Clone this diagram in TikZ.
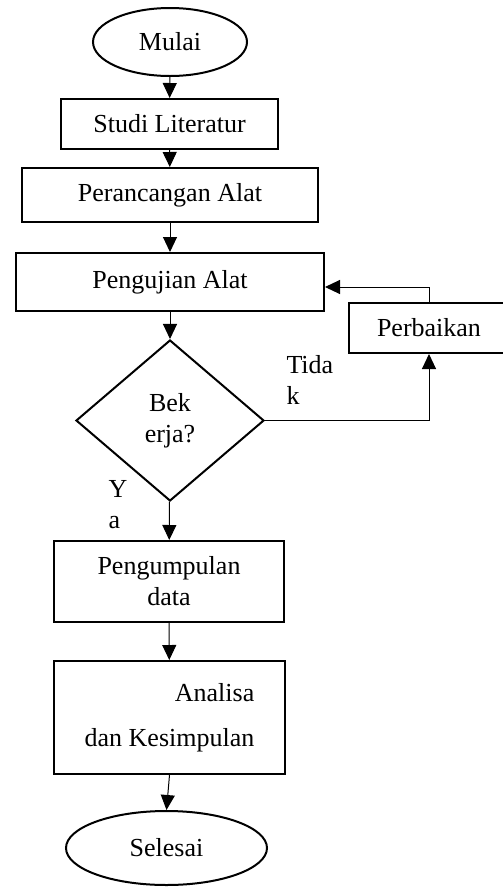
\documentclass[tikz,border=0pt]{standalone}
\usepackage{fontspec}
\setmainfont{Liberation Serif}
\usepackage{tikz}
\usetikzlibrary{shapes.geometric,arrows.meta}
\newcommand{\flowFont}{\fontsize{26}{31}\selectfont}
\newcommand{\boxLine}{2pt}

\begin{document}
\begin{tikzpicture}[x=1pt, y=-1pt, line width=1pt,
		every node/.style={font=\flowFont, inner sep=0pt},
		terminal/.style={draw, ellipse, line width=\boxLine},
		process/.style={draw, rectangle, line width=\boxLine, align=center},
		decision/.style={draw, diamond, line width=\boxLine, align=center},
		arr/.style={-{Triangle[length=15pt,width=14pt]}}]
	\useasboundingbox (0,0) rectangle (503,887);
	% main column
	\node[terminal, minimum width=154pt, minimum height=68pt] (mulai) at (170,42) {Mulai};
	\node[process, minimum width=217pt, minimum height=50pt] (studi) at (169.5,124) {Studi Literatur};
	\node[process, minimum width=296pt, minimum height=54pt] (rancang) at (170,195) {Perancangan Alat};
	\node[process, minimum width=308pt, minimum height=58pt] (uji) at (170,282) {Pengujian Alat};
	\node[decision, minimum width=188pt, minimum height=161pt] (cek) at (170,420.5) {Bek\\erja?};
	\node[process, minimum width=230pt, minimum height=81pt] (kumpul) at (169,581.5) {Pengumpulan\\data};
	\node[process, minimum width=231pt, minimum height=113pt, align=right] (analisa) at (169.5,717.5) {Analisa\\[14pt]dan Kesimpulan};
	\node[terminal, minimum width=201pt, minimum height=74pt] (selesai) at (166.5,848) {Selesai};
	% loop back
	\node[process, minimum width=160pt, minimum height=50pt] (perbaikan) at (429,328) {Perbaikan};
	\node[anchor=north west, align=left] (tidak) at (286,355) {Tida\\k};
	\node[anchor=north west, align=left] (ya) at (108,480) {Y\\a};
	% connectors
	\draw[arr] (mulai) -- (studi);
	\draw[arr] (studi) -- (rancang);
	\draw[arr] (rancang) -- (uji);
	\draw[arr] (uji) -- (cek);
	\draw[arr] (cek) -- (kumpul);
	\draw[arr] (kumpul) -- (analisa);
	\draw[arr] (analisa.south) -- (selesai.north);
	\draw[arr] (cek.east) -| (perbaikan.south);
	\draw[arr] (perbaikan.north) |- ([yshift=-5pt]uji.east);
\end{tikzpicture}
\end{document}
